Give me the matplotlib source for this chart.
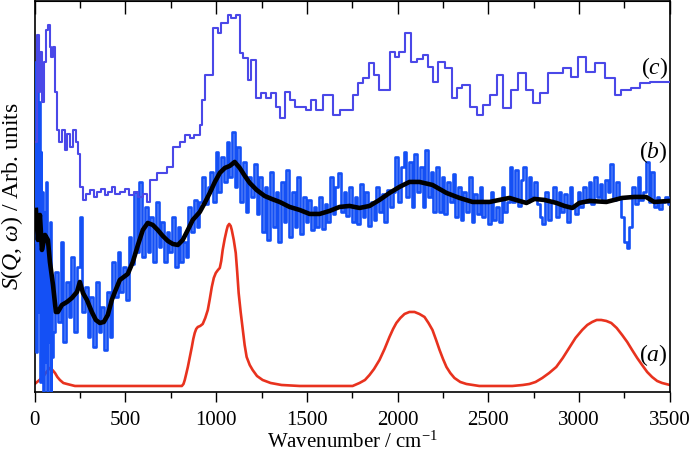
import numpy as np
import matplotlib
matplotlib.use("Agg")
import matplotlib.pyplot as plt
from matplotlib.ticker import MultipleLocator

plt.rcParams['font.family'] = ['Liberation Serif', 'DejaVu Serif']
plt.rcParams['mathtext.fontset'] = 'custom'
plt.rcParams['mathtext.rm'] = 'Liberation Serif'
plt.rcParams['mathtext.it'] = 'Liberation Serif:italic'

# --- (a) calculated spectrum (smooth, red) ---
a_x = [0, 20, 46, 65, 84, 98, 112, 125, 139, 158, 178, 222,
       811, 820, 827, 835, 844, 855, 866, 874, 882, 890, 899, 912, 926, 940, 954,
       965, 976, 987, 998, 1010, 1020, 1028, 1036, 1047, 1058, 1064, 1072, 1080,
       1086, 1097, 1108, 1116, 1124, 1135, 1147, 1157, 1168, 1185, 1201, 1225,
       1256, 1300, 1360, 1460,
       1752, 1790, 1820, 1845, 1870, 1900, 1928, 1955, 1975, 1993, 2015, 2038,
       2065, 2093, 2120, 2148, 2170, 2192, 2212, 2231, 2250, 2269, 2290, 2313,
       2345, 2379, 2450,
       2632, 2690, 2726, 2760, 2797, 2835, 2874, 2910, 2945, 2980, 3017, 3045,
       3072, 3097, 3122, 3150, 3177, 3207, 3237, 3265, 3292, 3320, 3347, 3375,
       3402, 3430, 3457, 3500]
a_y = [8, 11, 15, 20, 24, 22, 19, 15, 12, 9, 8, 6,
       6, 8, 12, 18, 25, 35, 45, 53, 59, 63, 65, 66, 68, 74, 82,
       93, 105, 114, 119, 122, 124, 131, 142, 153, 162, 166, 168, 166,
       162, 152, 139, 120, 99, 80, 62, 47, 35, 27, 22, 16,
       12, 9, 7, 6,
       6, 9, 12, 17, 23, 32, 43, 55, 63, 69, 74, 78,
       80, 80, 78, 75, 69, 62, 52, 42, 33, 25, 19, 14,
       10, 8, 6,
       6, 7, 8, 10, 14, 19, 25, 34, 44, 54, 62, 67,
       70, 72, 72, 71, 69, 64, 57, 50, 42, 34, 27, 20,
       15, 11, 9, 7]

# --- (b) measured spectrum (noisy, blue), 0-100 cm-1 every 5, then every 15 ---
b_low = [150, 330, 40, 350, 80, 290, 10, 240, 60, 200, -5, 180, 30, 210, -5, 140,
         50, 170, -5, 110, 35]
b_vals = [60, 120, 70, 150, 50, 110, 75, 135, 60, 125,
          175,
          80, 105, 55, 95, 45, 110, 60, 85, 42, 100, 55,
          130, 95, 140, 100, 125, 92,
          155, 128,
          200, 140, 210, 135,
          185, 140, 175, 130, 190, 145,
          170, 130, 160, 140, 175, 125, 165, 130, 150, 135,
          185, 160, 192, 165, 190,
          215, 188, 205, 220, 190,
          240, 200, 235, 210, 250, 215, 260,
          205, 245,
          190, 230, 180, 215, 195, 228, 178,
          215, 160, 205, 152, 220, 165, 200, 150, 210, 170, 222, 155, 200, 165, 215, 158, 195,
          170, 192, 162, 185, 165, 195, 163, 188, 170,
          215, 178, 205, 219, 180, 200, 176,
          205, 170, 195, 168, 208, 175, 200, 166, 190, 172, 205, 180, 198, 170, 202, 185, 200,
          235, 190, 225, 240, 195, 230, 185, 238, 200, 225, 185, 242, 195, 220, 180, 225,
          180, 215, 178, 210, 190, 218,
          175, 205, 172, 200, 180, 215, 170, 198, 178, 205, 175,
          190, 168, 200, 172, 185, 170, 205, 180, 190,
          225, 190, 222, 186, 212, 225, 190, 215, 195, 210, 188,
          175, 168, 200, 172, 190, 205, 175,
          200, 180, 198, 170, 205, 185, 178, 200,
          185, 205, 190, 210, 188, 215, 195, 208, 190, 212, 200, 228, 192, 210, 195,
          175, 150, 144, 165,
          205, 188, 215, 192, 200, 230, 190, 220,
          185, 195, 183, 190, 195, 188]

# --- (b) smoothed (black) ---
s_x = [7, 18, 29, 40, 57, 73, 84, 101, 117, 128, 150, 178, 205, 233, 249, 266, 288,
       315, 337, 359, 381, 403, 425, 442, 469, 491, 513, 541, 569, 596, 623, 651,
       678, 706, 734, 761, 789, 816, 844, 871, 910, 937, 965, 993, 1020, 1048,
       1075, 1102, 1130, 1158, 1185, 1223, 1267, 1306, 1350, 1405, 1460, 1515,
       1570, 1625, 1680, 1735, 1790, 1845, 1900, 1955, 2010, 2065, 2120, 2192,
       2269, 2341, 2413, 2507, 2560, 2616, 2671, 2710, 2754, 2809, 2875, 2919,
       2963, 3001, 3056, 3150, 3237, 3303, 3369, 3413, 3496]
s_y = [182, 152, 177, 142, 157, 152, 130, 107, 80, 80, 87, 90, 94, 100, 110, 99, 92,
       80, 72, 69, 70, 77, 92, 100, 112, 115, 118, 130, 147, 162, 169, 167,
       162, 156, 151, 148, 147, 152, 162, 172, 180, 189, 199, 210, 219, 224,
       226, 230, 224, 216, 209, 202, 196, 193, 190, 185, 182, 178,
       178, 181, 185, 186, 184, 186, 192, 199, 205, 210, 210, 207,
       199, 194, 190, 190, 192, 194, 191, 189, 193, 192, 189, 186,
       184, 189, 191, 190, 194, 195, 195, 190, 191]

# --- (c) step spectrum (offset), (bin start, level) ---
c_steps = [(0, 250), (12, 357), (22, 300), (32, 340), (42, 290), (52, 330), (62, 362),
           (72, 367), (82, 345), (92, 335), (102, 345), (112, 300), (122, 262),
           (135, 250), (150, 262), (165, 242), (180, 258), (195, 245), (210, 262),
           (225, 250), (240, 238), (252, 205), (266, 192), (285, 198), (305, 202),
           (325, 195), (345, 200), (365, 203), (385, 197), (405, 200), (425, 205),
           (445, 198), (470, 200), (495, 203), (520, 197), (545, 200), (570, 195),
           (595, 198), (618, 190), (634, 212), (673, 219), (728, 225), (762, 245),
           (800, 250), (827, 257), (855, 254), (880, 257), (910, 267), (921, 292),
           (937, 317), (981, 364), (1009, 359), (1025, 369), (1064, 377), (1083, 374),
           (1110, 377), (1130, 339), (1148, 334), (1175, 312), (1193, 332), (1221, 294),
           (1248, 299), (1276, 294), (1303, 299), (1331, 285), (1350, 274), (1377, 300),
           (1405, 292), (1432, 285), (1496, 282), (1524, 292), (1551, 282), (1588, 297),
           (1643, 277), (1680, 282), (1753, 297), (1781, 309), (1808, 314), (1844, 329),
           (1872, 317), (1899, 302), (1957, 340), (1984, 335), (2010, 340), (2038, 359),
           (2076, 330), (2109, 333), (2142, 337), (2169, 325), (2197, 310), (2224, 330),
           (2261, 324), (2298, 294), (2325, 304), (2353, 307), (2398, 285), (2435, 277),
           (2472, 287), (2508, 297), (2545, 317), (2582, 284), (2627, 302), (2664, 319),
           (2710, 302), (2747, 289), (2783, 299), (2829, 319), (2912, 324), (2958, 315),
           (2994, 335), (3040, 320), (3086, 329), (3141, 314), (3196, 297), (3233, 302),
           (3288, 304), (3334, 309), (3389, 310), (3500, 310)]
c_x = [p[0] for p in c_steps]
c_y = [p[1] for p in c_steps]

b_x = np.concatenate([5 * np.arange(len(b_low)), 105 + 15 * np.arange(len(b_vals))])
b_y = np.array(b_low + b_vals)

fig = plt.figure(figsize=(6.92, 4.55), dpi=100)
ax = fig.add_axes([0.0501, 0.1385, 0.9179, 0.8595])

ax.plot(a_x, a_y, color='#e8321e', lw=1.9, zorder=2)
ax.plot(b_x, b_y, color='#1450f5', lw=1.9, drawstyle='steps-mid', zorder=3)
ax.plot(s_x, s_y, color='black', lw=3.3, zorder=4)
ax.plot(c_x, c_y, color='#4a48e8', lw=1.5, drawstyle='steps-post', zorder=3)

ax.set_xlim(0, 3500)
ax.set_ylim(0, 391)
ax.set_yticks([])
ax.xaxis.set_major_locator(MultipleLocator(500))
ax.xaxis.set_minor_locator(MultipleLocator(250))
ax.tick_params(axis='x', which='major', direction='out', length=7, width=1.0,
               labelsize=15, pad=7)
ax.tick_params(axis='x', which='minor', direction='out', length=4.5, width=1.0)

top = ax.secondary_xaxis('top')
top.xaxis.set_major_locator(MultipleLocator(500))
top.xaxis.set_minor_locator(MultipleLocator(250))
top.tick_params(which='major', direction='in', length=9, width=1.0, labeltop=False)
top.tick_params(which='minor', direction='in', length=5, width=1.0)

for sp in ax.spines.values():
    sp.set_linewidth(1.2)

ax.set_xlabel('Wavenumber / cm$^{-1}$', fontsize=15, labelpad=1)
ax.set_ylabel('$S(Q,\\,\\omega)$ / Arb. units', fontsize=17, labelpad=7)

ax.text(3490, 324, '($\\it{c}$)', ha='right', va='center', fontsize=17)
ax.text(3490, 240, '($\\it{b}$)', ha='right', va='center', fontsize=17)
ax.text(3490, 37, '($\\it{a}$)', ha='right', va='center', fontsize=17)

fig.savefig('out.png', dpi=100)
